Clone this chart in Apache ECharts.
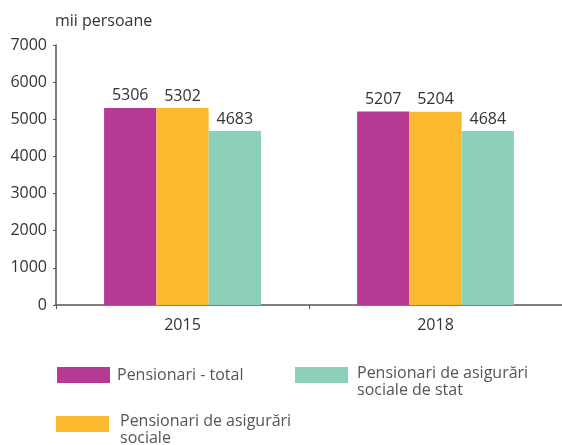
<!DOCTYPE html>
<html>
<head>
<meta charset="utf-8">
<script src="https://cdn.jsdelivr.net/npm/echarts@6/dist/echarts.min.js"></script>
<style>
html,body{margin:0;padding:0;background:#fff;}
#chart{width:562px;height:445px;}
</style>
</head>
<body>
<div id="chart"></div>
<script>
var years = ['2015', '2018'];
var seriesNames = ['Pensionari - total', 'Pensionari de asigurări sociale', 'Pensionari de asigurări sociale de stat'];
var totalValues = [5306, 5207];
var socialValues = [5302, 5204];
var stateValues = [4683, 4684];
var colors = ['#b63a94', '#fbba30', '#8cd0ba'];

var chart = echarts.init(document.getElementById('chart'));
var font = '"Open Sans", "Noto Sans", sans-serif';

function bar(name, data, color) {
    return {
        name: name,
        type: 'bar',
        data: data,
        barGap: '0%',
        barCategoryGap: '38%',
        itemStyle: { color: color },
        label: {
            show: true,
            position: 'top',
            distance: 4,
            color: '#333',
            fontSize: 16,
            fontFamily: font
        }
    };
}

// one legend component per item; a spacer line pushes two-line labels down a bit
function legendAt(name, left, top, padLeft, spacer) {
    return {
        data: [name],
        left: left,
        top: top,
        padding: 0,
        itemWidth: 53,
        itemHeight: 16,
        itemGap: 0,
        icon: 'rect',
        formatter: function (n) {
            if (n === seriesNames[1]) return '{s|}\n{t|Pensionari de asigurări}\n{t|sociale}';
            if (n === seriesNames[2]) return '{s|}\n{t|Pensionari de asigurări}\n{t|sociale de stat}';
            return '{t|' + n + '}';
        },
        textStyle: {
            color: '#555', fontSize: 16, fontFamily: font, padding: [0, 0, 0, padLeft],
            rich: {
                s: { height: spacer, lineHeight: spacer, fontSize: 1 },
                t: { color: '#555', fontSize: 16, fontFamily: font, lineHeight: 17 }
            }
        }
    };
}

var option = {
    animation: false,
    grid: { left: 56, right: 0, top: 45, bottom: 140 },
    title: {
        text: 'mii persoane',
        left: 50,
        top: 8,
        textStyle: { color: '#333', fontSize: 16, fontWeight: 'normal', fontFamily: font }
    },
    legend: [
        legendAt(seriesNames[0], 57, 367, 2, 0),
        legendAt(seriesNames[2], 295, 351, 4, 14),
        legendAt(seriesNames[1], 56, 401, 6, 12)
    ],
    xAxis: {
        type: 'category',
        data: years,
        axisLine: { lineStyle: { color: '#555', width: 1.5 } },
        axisTick: { show: true, length: 4, lineStyle: { color: '#555' } },
        axisLabel: { color: '#333', fontSize: 16, fontFamily: font, margin: 12 }
    },
    yAxis: {
        type: 'value',
        min: 0,
        max: 7000,
        interval: 1000,
        axisLine: { show: true, lineStyle: { color: '#555', width: 1.5 } },
        axisTick: { show: true, length: 3, lineStyle: { color: '#555' } },
        splitLine: { show: false },
        axisLabel: {
            color: '#333', fontSize: 16, fontFamily: font, margin: 9,
            formatter: function (v) { return String(v); }
        }
    },
    series: [
        bar(seriesNames[0], totalValues, colors[0]),
        bar(seriesNames[1], socialValues, colors[1]),
        bar(seriesNames[2], stateValues, colors[2])
    ]
};
chart.setOption(option);
</script>
</body>
</html>
